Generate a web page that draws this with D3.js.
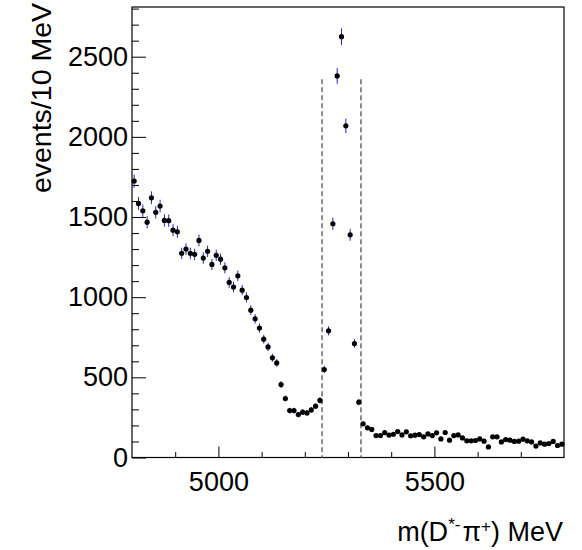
<!DOCTYPE html>
<html>
<head>
<meta charset="utf-8">
<script src="https://cdn.jsdelivr.net/npm/d3@7"></script>
<style>
  body { margin: 0; background: #fff; }
  svg { font-family: "Liberation Sans", Arial, sans-serif; }
  .axis text { font-size: 27px; fill: #000; }
  .axis line { stroke: #000; }
  .axis path { display: none; }
</style>
</head>
<body>
<div id="d3-container"></div>
<script>
/* CONSTANTS AND GLOBALS */
const width = 582,
  height = 550,
  margin = { top: 7, bottom: 92.5, left: 132, right: 18 },
  radius = 2.6;

// bin centres, 10 MeV wide
const binCenters = d3.range(4805, 5800, 10);

// events per bin
const counts = [
  1724, 1585, 1539, 1468, 1620, 1529, 1568, 1479, 1477, 1418,
  1408, 1273, 1300, 1273, 1267, 1354, 1244, 1286, 1204, 1261,
  1237, 1183, 1092, 1063, 1133, 1044, 998, 919, 865, 807,
  738, 690, 622, 590, 455, 368, 293, 293, 268, 283,
  278, 297, 320, 356, 549, 790, 1458, 2380, 2625, 2069,
  1389, 711, 345, 210, 185, 175, 137, 137, 155, 140,
  145, 162, 141, 160, 135, 139, 143, 129, 147, 137,
  154, 116, 156, 108, 137, 141, 122, 104, 104, 106,
  116, 102, 66, 129, 129, 97, 112, 108, 100, 102,
  114, 104, 97, 71, 91, 83, 87, 100, 75, 83
];

// signal window
const windowEdges = [5240, 5330];
const windowTop = 2360;

const xMajor = [5000, 5500];
const xMinor = d3.range(4900, 5800, 100).filter(d => !xMajor.includes(d));
const yMajor = d3.range(0, 3000, 500);
const yMinor = d3.range(100, 2810, 100).filter(d => d % 500 !== 0);

let svg, xScale, yScale;

init();

function init() {
  xScale = d3.scaleLinear()
    .domain([4800, 5800])
    .range([margin.left, width - margin.right]);

  yScale = d3.scaleLinear()
    .domain([0, 2810])
    .range([height - margin.bottom, margin.top]);

  svg = d3.select("#d3-container")
    .append("svg")
    .attr("width", width)
    .attr("height", height);

  // frame
  svg.append("rect")
    .attr("x", margin.left)
    .attr("y", margin.top)
    .attr("width", width - margin.left - margin.right)
    .attr("height", height - margin.top - margin.bottom)
    .attr("fill", "none")
    .attr("stroke", "#000")
    .attr("stroke-width", 1.2);

  // y axis, ticks pointing inside
  svg.append("g")
    .attr("class", "axis y-axis")
    .attr("transform", `translate(${margin.left},0)`)
    .call(d3.axisLeft(yScale).tickValues(yMajor).tickFormat(d3.format("d"))
      .tickSize(-14).tickSizeOuter(0).tickPadding(4));

  svg.append("g")
    .attr("class", "axis y-minor")
    .attr("transform", `translate(${margin.left},0)`)
    .call(d3.axisLeft(yScale).tickValues(yMinor).tickSize(-7).tickSizeOuter(0).tickFormat(""));

  // x axis
  svg.append("g")
    .attr("class", "axis x-axis")
    .attr("transform", `translate(0,${height - margin.bottom})`)
    .call(d3.axisBottom(xScale).tickValues(xMajor).tickFormat(d3.format("d"))
      .tickSize(-11).tickSizeOuter(0).tickPadding(14));

  svg.append("g")
    .attr("class", "axis x-minor")
    .attr("transform", `translate(0,${height - margin.bottom})`)
    .call(d3.axisBottom(xScale).tickValues(xMinor).tickSize(-5.5).tickSizeOuter(0).tickFormat(""));

  // axis titles
  svg.append("text")
    .attr("transform", "translate(51,3) rotate(-90)")
    .attr("text-anchor", "end")
    .attr("font-size", 28.5)
    .text("events/10 MeV");

  const xt = svg.append("text")
    .attr("x", width - margin.right - 1)
    .attr("y", 541)
    .attr("text-anchor", "end")
    .attr("font-size", 27);
  xt.append("tspan").text("m(D");
  xt.append("tspan").attr("font-size", 17).attr("dy", -11).text("*-");
  xt.append("tspan").attr("dy", 11).attr("dx", 2).text("π");
  xt.append("tspan").attr("font-size", 17).attr("dy", -9).text("+");
  xt.append("tspan").attr("dy", 9).text(") MeV");

  draw();
}

function draw() {
  const data = binCenters.map((c, i) => ({ x: c, n: counts[i] }));

  // signal window lines
  svg.selectAll("line.window")
    .data(windowEdges)
    .join("line")
    .attr("class", "window")
    .attr("x1", d => xScale(d))
    .attr("x2", d => xScale(d))
    .attr("y1", yScale(windowTop))
    .attr("y2", yScale(0))
    .attr("stroke", "#707070")
    .attr("stroke-width", 1.6)
    .attr("stroke-dasharray", "5,3");

  // error bars, sqrt(N)
  svg.selectAll("line.err")
    .data(data)
    .join("line")
    .attr("class", "err")
    .attr("x1", d => xScale(d.x))
    .attr("x2", d => xScale(d.x))
    .attr("y1", d => yScale(d.n + Math.sqrt(d.n)))
    .attr("y2", d => yScale(d.n - Math.sqrt(d.n)))
    .attr("stroke", "#2222cc")
    .attr("stroke-width", 1);

  svg.selectAll("circle.dot")
    .data(data)
    .join("circle")
    .attr("class", "dot")
    .attr("r", radius)
    .attr("cx", d => xScale(d.x))
    .attr("cy", d => yScale(d.n))
    .attr("fill", "#000");
}
</script>
</body>
</html>
